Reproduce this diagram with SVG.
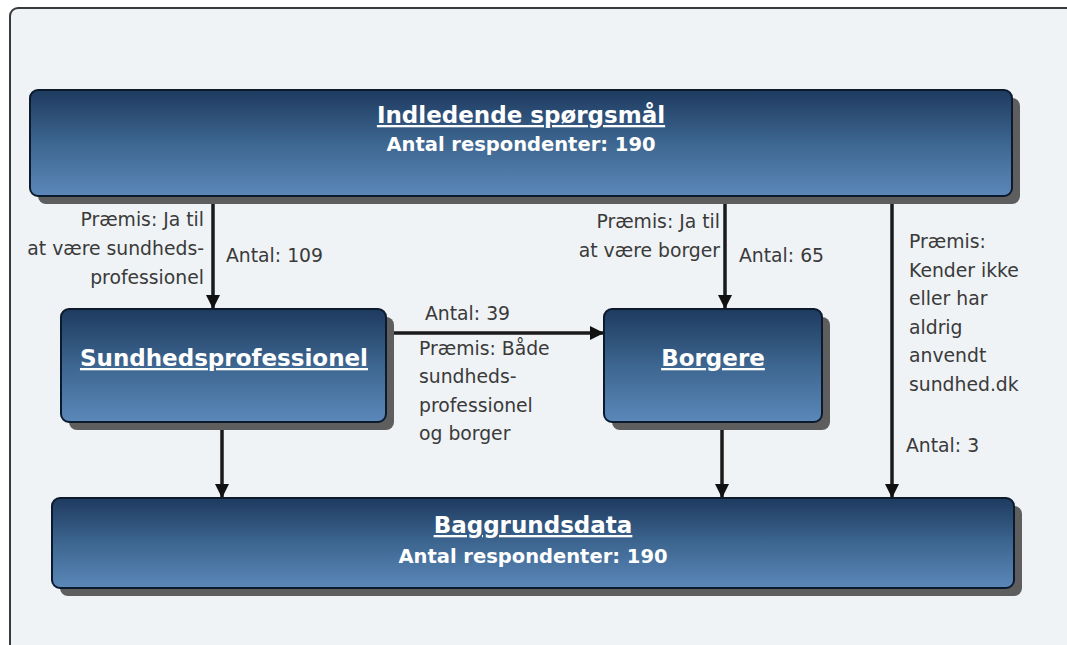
<svg xmlns="http://www.w3.org/2000/svg" width="1067" height="645" viewBox="0 0 1067 645">
<defs>
<linearGradient id="g" x1="0" y1="0" x2="0" y2="1">
<stop offset="0" stop-color="#1e3a5f"/>
<stop offset="0.5" stop-color="#3d6690"/>
<stop offset="1" stop-color="#5b88b9"/>
</linearGradient>
<marker id="ah" viewBox="0 0 14 14" refX="13" refY="7" markerWidth="14" markerHeight="14" markerUnits="userSpaceOnUse" orient="auto">
<path d="M0,0 L14,7 L0,14 Z" fill="#111"/>
</marker>
<style>
.shadow{fill:#5e5e5e;}
.box{fill:url(#g);stroke:#0c1a2e;stroke-width:2;}
.t{font-family:"DejaVu Sans",sans-serif;font-weight:bold;fill:#ffffff;text-anchor:middle;}
.h{font-size:23px;text-decoration:underline;}
.s{font-size:19.5px;}
.lbl{font-family:"DejaVu Sans",sans-serif;font-size:18.8px;fill:#3a3a3a;}
.r{text-anchor:end;}
.c{stroke:#1a1a1a;stroke-width:3.5;fill:none;marker-end:url(#ah);}
</style>
</defs>
<rect x="0" y="0" width="1067" height="645" fill="#ffffff"/>
<rect x="10" y="8" width="1100" height="700" rx="8" fill="#eff3f5" stroke="#3a3a3a" stroke-width="2"/>

<g id="connectors">
<line class="c" x1="213" y1="196" x2="213" y2="308"/>
<line class="c" x1="725" y1="196" x2="725" y2="308"/>
<line class="c" x1="892" y1="196" x2="892" y2="497"/>
<line class="c" x1="222" y1="422" x2="222" y2="497"/>
<line class="c" x1="722" y1="422" x2="722" y2="497"/>
<line class="c" x1="386" y1="333" x2="603" y2="333"/>
<text class="lbl r" x="204" y="226">Præmis: Ja til</text>
<text class="lbl r" x="204" y="255">at være sundheds-</text>
<text class="lbl r" x="204" y="284">professionel</text>
<text class="lbl" x="226" y="262">Antal: 109</text>
<text class="lbl r" x="720" y="228">Præmis: Ja til</text>
<text class="lbl r" x="720" y="257">at være borger</text>
<text class="lbl" x="739" y="262">Antal: 65</text>
<text class="lbl" x="425" y="320">Antal: 39</text>
<text class="lbl" x="419" y="355">Præmis: Både</text>
<text class="lbl" x="419" y="383">sundheds-</text>
<text class="lbl" x="419" y="412">professionel</text>
<text class="lbl" x="419" y="440">og borger</text>
<text class="lbl" x="909" y="248">Præmis:</text>
<text class="lbl" x="909" y="277">Kender ikke</text>
<text class="lbl" x="909" y="305">eller har</text>
<text class="lbl" x="909" y="334">aldrig</text>
<text class="lbl" x="909" y="362">anvendt</text>
<text class="lbl" x="909" y="391">sundhed.dk</text>
<text class="lbl" x="906" y="452">Antal: 3</text>
</g>

<g id="indledende">
<rect class="shadow" x="38" y="98" width="982" height="106" rx="8"/>
<rect class="box" x="30" y="90" width="982" height="106" rx="8"/>
<text class="t h" x="521" y="123">Indledende spørgsmål</text>
<text class="t s" x="521" y="151">Antal respondenter: 190</text>
</g>

<g id="sundhedsprofessionel">
<rect class="shadow" x="69" y="317" width="325" height="113" rx="8"/>
<rect class="box" x="61" y="309" width="325" height="113" rx="8"/>
<text class="t h" x="224" y="366">Sundhedsprofessionel</text>
</g>

<g id="borgere">
<rect class="shadow" x="612" y="317" width="218" height="113" rx="8"/>
<rect class="box" x="604" y="309" width="218" height="113" rx="8"/>
<text class="t h" x="713" y="366">Borgere</text>
</g>

<g id="baggrundsdata">
<rect class="shadow" x="60" y="506" width="962" height="90" rx="8"/>
<rect class="box" x="52" y="498" width="962" height="90" rx="8"/>
<text class="t h" x="533" y="533">Baggrundsdata</text>
<text class="t s" x="533" y="563">Antal respondenter: 190</text>
</g>
</svg>
